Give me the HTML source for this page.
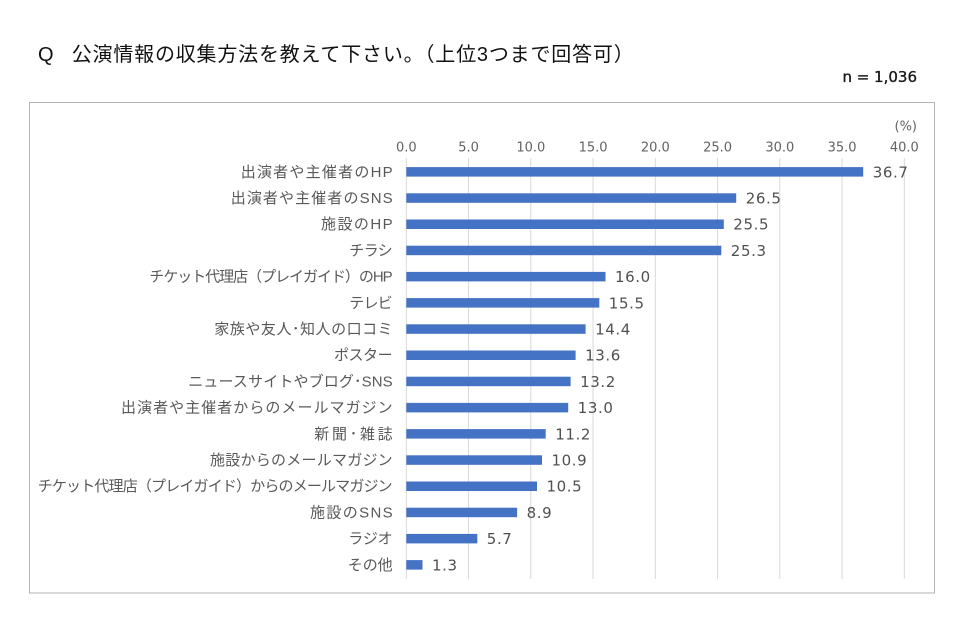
<!DOCTYPE html>
<html>
<head>
<meta charset="utf-8">
<style>
  html, body { margin:0; padding:0; background:#fff; }
  svg { display:block; }
  .cat { font-family:"Liberation Sans","Noto Sans CJK JP",sans-serif; font-size:15px; fill:#595959; }
  .tick { font-family:"DejaVu Sans","Liberation Sans",sans-serif; font-size:13px; fill:#636363; }
  .val { font-family:"DejaVu Sans","Liberation Sans",sans-serif; font-size:15px; fill:#505050; letter-spacing:0.6px; }
</style>
</head>
<body>
<svg width="960" height="639" viewBox="0 0 960 639" xmlns="http://www.w3.org/2000/svg">
  <rect x="0" y="0" width="960" height="639" fill="#ffffff"/>

  <!-- Title -->
  <text x="38" y="55" dominant-baseline="central" font-family="Liberation Sans, sans-serif" font-size="20" fill="#111">Q</text>
  <text x="71.7" y="55" dominant-baseline="central" font-family="Liberation Sans, 'Noto Sans CJK JP', sans-serif" font-size="20" fill="#111" textLength="562" lengthAdjust="spacing">公演情報の収集方法を教えて下さい。（上位3つまで回答可）</text>

  <text x="917" y="77.2" dominant-baseline="central" text-anchor="end" font-family="DejaVu Sans, sans-serif" font-size="15" fill="#1a1a1a" stroke="#1a1a1a" stroke-width="0.35">n = 1,036</text>

  <!-- Frame -->
  <rect x="29.5" y="102.5" width="905" height="490.5" fill="none" stroke="#b3b3b3" stroke-width="1"/>

  <!-- (%) -->
  <text x="917" y="127" dominant-baseline="central" text-anchor="end" class="tick">(%)</text>

  <!-- Gridlines -->
  <g stroke="#d9d9d9" stroke-width="1">
    <line x1="406.3" y1="158" x2="406.3" y2="579"/>
    <line x1="468.55" y1="158" x2="468.55" y2="579"/>
    <line x1="530.8" y1="158" x2="530.8" y2="579"/>
    <line x1="593.05" y1="158" x2="593.05" y2="579"/>
    <line x1="655.3" y1="158" x2="655.3" y2="579"/>
    <line x1="717.55" y1="158" x2="717.55" y2="579"/>
    <line x1="779.8" y1="158" x2="779.8" y2="579"/>
    <line x1="842.05" y1="158" x2="842.05" y2="579"/>
    <line x1="904.3" y1="158" x2="904.3" y2="579"/>
  </g>

  <!-- Tick labels -->
  <g class="tick" text-anchor="middle">
    <text x="406.3" y="151.7">0.0</text>
    <text x="468.55" y="151.7">5.0</text>
    <text x="530.8" y="151.7">10.0</text>
    <text x="593.05" y="151.7">15.0</text>
    <text x="655.3" y="151.7">20.0</text>
    <text x="717.55" y="151.7">25.0</text>
    <text x="779.8" y="151.7">30.0</text>
    <text x="842.05" y="151.7">35.0</text>
    <text x="904.3" y="151.7">40.0</text>
  </g>

  <!-- Bars -->
  <g fill="#4472c4">
    <rect x="406.3" y="167.1" width="456.9" height="9.5"/>
    <rect x="406.3" y="193.3" width="329.9" height="9.5"/>
    <rect x="406.3" y="219.5" width="317.5" height="9.5"/>
    <rect x="406.3" y="245.7" width="315.0" height="9.5"/>
    <rect x="406.3" y="271.9" width="199.2" height="9.5"/>
    <rect x="406.3" y="298.1" width="193.0" height="9.5"/>
    <rect x="406.3" y="324.3" width="179.3" height="9.5"/>
    <rect x="406.3" y="350.5" width="169.3" height="9.5"/>
    <rect x="406.3" y="376.7" width="164.3" height="9.5"/>
    <rect x="406.3" y="402.9" width="161.9" height="9.5"/>
    <rect x="406.3" y="429.1" width="139.4" height="9.5"/>
    <rect x="406.3" y="455.3" width="135.7" height="9.5"/>
    <rect x="406.3" y="481.5" width="130.7" height="9.5"/>
    <rect x="406.3" y="507.7" width="110.8" height="9.5"/>
    <rect x="406.3" y="533.9" width="71.0" height="9.5"/>
    <rect x="406.3" y="560.1" width="16.2" height="9.5"/>
  </g>

  <!-- Value labels -->
  <g class="val">
    <text x="872.7" y="177.3">36.7</text>
    <text x="745.7" y="203.5">26.5</text>
    <text x="733.3" y="229.7">25.5</text>
    <text x="730.8" y="255.9">25.3</text>
    <text x="615.0" y="282.1">16.0</text>
    <text x="608.8" y="308.3">15.5</text>
    <text x="595.1" y="334.5">14.4</text>
    <text x="585.1" y="360.7">13.6</text>
    <text x="580.1" y="386.9">13.2</text>
    <text x="577.7" y="413.1">13.0</text>
    <text x="555.2" y="439.3">11.2</text>
    <text x="551.5" y="465.5">10.9</text>
    <text x="546.5" y="491.7">10.5</text>
    <text x="526.6" y="517.9">8.9</text>
    <text x="486.8" y="544.1">5.7</text>
    <text x="432.0" y="570.3">1.3</text>
  </g>

  <!-- Category labels -->
  <g class="cat" text-anchor="end" dominant-baseline="central">
    <text x="392.7" y="172.3" textLength="152" lengthAdjust="spacing">出演者や主催者のHP</text>
    <text x="392.7" y="198.5" textLength="162" lengthAdjust="spacing">出演者や主催者のSNS</text>
    <text x="392.7" y="224.7" textLength="71.7" lengthAdjust="spacing">施設のHP</text>
    <text x="392.7" y="250.9" textLength="43.4" lengthAdjust="spacing">チラシ</text>
    <text x="392.7" y="277.1" textLength="243.4" lengthAdjust="spacing">チケット代理店（プレイガイド）のHP</text>
    <text x="392.7" y="303.3" textLength="43.4" lengthAdjust="spacing">テレビ</text>
    <text x="392.7" y="329.5" textLength="178.4" lengthAdjust="spacing">家族や友人･知人の口コミ</text>
    <text x="392.7" y="355.7" textLength="58.7" lengthAdjust="spacing">ポスター</text>
    <text x="392.7" y="381.9" textLength="204.4" lengthAdjust="spacing">ニュースサイトやブログ･SNS</text>
    <text x="392.7" y="408.1" textLength="271.7" lengthAdjust="spacing">出演者や主催者からのメールマガジン</text>
    <text x="392.7" y="434.3" textLength="78.4" lengthAdjust="spacing">新聞･雑誌</text>
    <text x="392.7" y="460.5" textLength="182.7" lengthAdjust="spacing">施設からのメールマガジン</text>
    <text x="392.7" y="486.7" textLength="355" lengthAdjust="spacing">チケット代理店（プレイガイド）からのメールマガジン</text>
    <text x="392.7" y="512.9" textLength="82.7" lengthAdjust="spacing">施設のSNS</text>
    <text x="392.7" y="539.1" textLength="44.4" lengthAdjust="spacing">ラジオ</text>
    <text x="392.7" y="565.3" textLength="45" lengthAdjust="spacing">その他</text>
  </g>
</svg>
</body>
</html>
